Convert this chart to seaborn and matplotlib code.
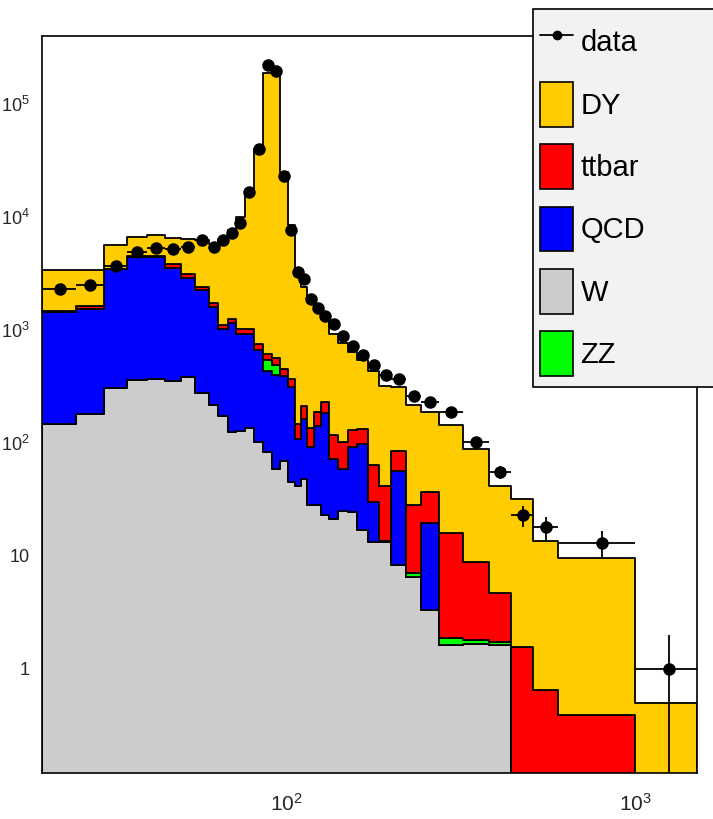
import numpy as np
import pandas as pd
import matplotlib
matplotlib.use("Agg")
import matplotlib.pyplot as plt
import seaborn as sns
from matplotlib.patches import Rectangle, Patch
from matplotlib.lines import Line2D
from matplotlib.ticker import FixedLocator, FuncFormatter, NullFormatter

# ---------------- data ----------------
bin_edges = [20, 25, 30, 35, 40, 45, 50, 55, 60, 64, 68, 72, 76, 81, 86, 91, 96, 101,
             106, 110, 115, 120, 126, 133, 141, 150, 160, 171, 185, 200, 220, 243,
             273, 320, 380, 440, 510, 600, 1000, 1500]

W_evts = [146, 179, 308, 363, 370, 354, 385, 279, 215, 175, 125, 127, 137, 101, 84, 59,
          69, 45, 42, 48, 28, 28, 23, 21.4, 25, 24.5, 16.9, 13.3, 13.3, 8.3, 6.5, 3.3,
          1.62, 1.67, 1.64, 0, 0, 0, 0]
QCD_evts = [1297, 1342, 3128, 4063, 4056, 3186, 2499, 1971, 1396, 852, 1036, 787, 777,
            559, 346, 337, 321, 268, 66, 114, 64, 112, 162, 50.6, 34, 67.5, 82, 16.7,
            0.3, 48.7, 0, 16.3, 0, 0, 0, 0, 0, 0, 0]
ZZ_evts = [0, 0, 0, 0, 0, 0, 0, 0, 0, 0, 0, 0, 0, 0, 108, 97, 0, 0, 0, 0, 0, 0, 0, 0,
           0, 0, 0, 0, 0, 0, 0.5, 0, 0.26, 0.12, 0.09, 0, 0, 0, 0]
ttbar_evts = [17, 109, 44, 54, 54, 270, 220, 130, 123, 72, 98, 113, 113, 86, 70, 76, 58,
              58, 40, 50, 45, 48, 46, 45, 43, 39, 33, 34, 28, 28.5, 21, 17.2, 14.2, 7.06,
              2.97, 1.56, 0.647, 0.389, 0]
DY_evts = [1910, 1740, 2210, 2170, 2450, 2710, 3236, 3870, 4066, 5331, 6341, 8973, 15573,
           39454, 188392, 188431, 24552, 8059, 2852, 2188, 1763, 1462, 1169, 813, 658,
           509, 408, 366, 278, 229.5, 188, 152, 127, 80, 36.9, 30.1, 13.05, 9.2, 0.5]
data_evts = [2290, 2520, 3655, 4900, 5350, 5200, 5420, 6210, 5420, 6210, 7280, 8850,
             16640, 40200, 223000, 197000, 22860, 7610, 3260, 2845, 1900, 1566, 1331,
             1122, 878, 721, 596, 493, 402, 371, 261, 231, 188, 102, 55, 23, 18, 13, 1]

process_names = ["DY", "ttbar", "QCD", "W", "ZZ"]
process_colors = {"DY": "#ffcc00", "ttbar": "#ff0000", "QCD": "#0000ff",
                  "W": "#cccccc", "ZZ": "#00ff00"}

# ---------------- style ----------------
sns.set_theme(style="white")
plt.rcParams["font.family"] = ["Liberation Sans", "DejaVu Sans"]
plt.rcParams["mathtext.default"] = "regular"

fig = plt.figure(figsize=(7.13, 8.19), dpi=100)
ax = fig.add_axes([42 / 713, 1 - 773 / 819, (697 - 42) / 713, (773 - 36) / 819])

edges = np.array(bin_edges, dtype=float)
inner = np.sqrt(edges[:-1] * edges[1:])
rows = []
for name, vals in [("DY", DY_evts), ("ttbar", ttbar_evts), ("ZZ", ZZ_evts),
                   ("QCD", QCD_evts), ("W", W_evts)]:
    for c, v in zip(inner, vals):
        rows.append((float(c), float(v), name))
df = pd.DataFrame(rows, columns=["mass", "events", "process"])

# first hue level ends on top of the stack
sns.histplot(data=df, x="mass", weights="events", hue="process",
             hue_order=["DY", "ttbar", "ZZ", "QCD", "W"], palette=process_colors,
             bins=[float(b) for b in bin_edges], multiple="stack", element="step",
             fill=True, alpha=1, edgecolor="black", linewidth=1.3, legend=False, ax=ax)

ax.set_xscale("log")
ax.set_yscale("log")

centers = 0.5 * (edges[:-1] + edges[1:])
half = 0.5 * (edges[1:] - edges[:-1])
dat = np.array(data_evts, dtype=float)
ax.errorbar(centers, dat, xerr=half, yerr=np.sqrt(dat), fmt="o", color="black",
            ms=8, elinewidth=1.3, capsize=0, zorder=10)

ax.set_xlim(20, 1500)
ax.set_ylim(0.12, 4e5)
ax.set_xlabel("")
ax.set_ylabel("")

# ticks, ROOT style
ax.xaxis.set_major_locator(FixedLocator([100, 1000]))
ax.xaxis.set_minor_locator(FixedLocator([30, 40, 50, 60, 70, 80, 90,
                                         200, 300, 400, 500, 600, 700, 800, 900]))
ax.xaxis.set_major_formatter(FuncFormatter(lambda v, p: r"$\mathregular{10^{%d}}$" % round(np.log10(v))))
ax.xaxis.set_minor_formatter(NullFormatter())

ymaj = [1, 10, 100, 1e3, 1e4, 1e5]
ymin = [m * 10.0 ** k for k in range(-1, 6) for m in range(2, 10)]
ax.yaxis.set_major_locator(FixedLocator(ymaj))
ax.yaxis.set_minor_locator(FixedLocator(ymin))


def yfmt(v, p):
    e = int(round(np.log10(v)))
    if e == 0:
        return "1"
    if e == 1:
        return "10"
    return r"$\mathregular{10^{%d}}$" % e


ax.yaxis.set_major_formatter(FuncFormatter(yfmt))
ax.yaxis.set_minor_formatter(NullFormatter())

ax.tick_params(axis="both", which="both", direction="in", color="black",
               top=False, right=False, width=1.2)
ax.tick_params(axis="x", which="major", length=16, pad=14, labelsize=15)
ax.tick_params(axis="x", which="minor", length=8.5)
ax.tick_params(axis="y", which="major", length=14.5, pad=9, labelsize=13)
ax.tick_params(axis="y", which="minor", length=7.2)
for s in ax.spines.values():
    s.set_color("black")
    s.set_linewidth(1.2)

# ---------------- legend (ROOT TLegend look) ----------------
box = Rectangle((533 / 713, 1 - 387 / 819), 0.3, (387 - 9) / 819,
                transform=fig.transFigure, facecolor="#f2f2f2",
                edgecolor="black", linewidth=1.2, zorder=3)
fig.patches.append(box)

handles = [Line2D([], [], color="black", marker="o", ms=6, lw=1.3)]
for name in ["DY", "ttbar", "QCD", "W", "ZZ"]:
    handles.append(Patch(facecolor=process_colors[name], edgecolor="black", linewidth=1.2))
labels = ["data"] + ["DY", "ttbar", "QCD", "W", "ZZ"]
leg = fig.legend(handles, labels, loc="upper left",
                 bbox_to_anchor=(540 / 713, 1 - 19.5 / 819),
                 frameon=False, fontsize=21, borderpad=0, borderaxespad=0,
                 handlelength=1.14, handleheight=1.99, handletextpad=0.25,
                 labelspacing=0.60)
for t in leg.get_texts():
    t.set_color("black")
leg.set_zorder(5)

fig.savefig("out.png", dpi=100, facecolor="white")
